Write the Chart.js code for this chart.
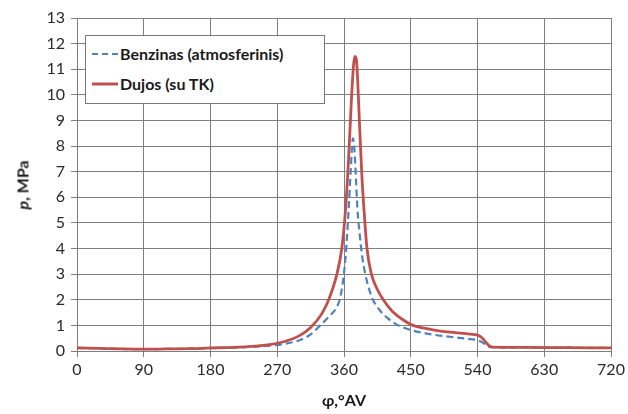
<!DOCTYPE html>
<html>
<head>
<meta charset="utf-8">
<script src="https://cdn.jsdelivr.net/npm/chart.js@4"></script>
<style>
  body { margin: 0; background: #fff; }
  #wrap { position: relative; width: 628px; height: 414px; font-family: Lato, "Liberation Sans", sans-serif; }
  #legend {
    position: absolute; left: 85px; top: 35px; width: 240px; height: 69px;
    background: #fff; border: 1px solid #777; box-sizing: border-box;
    font-weight: bold; font-size: 16px; color: #1a1a1a;
  }
  .item { position: absolute; left: 6px; display: flex; align-items: center; }
  .item svg { margin-right: 2px; }
  #ytitle {
    position: absolute; left: 22px; top: 185px; transform: translate(-50%, -50%) rotate(-90deg);
    font-weight: bold; font-size: 16px; color: #1a1a1a; white-space: nowrap;
  }
</style>
</head>
<body>
<div id="wrap">
  <canvas id="c" width="628" height="414"></canvas>
  <div id="legend">
    <div class="item" style="top:8px"><svg width="26" height="4"><line x1="0" y1="2" x2="26" y2="2" stroke="#4f81bd" stroke-width="2" stroke-dasharray="6,4"/></svg>Benzinas (atmosferinis)</div>
    <div class="item" style="top:38px"><svg width="26" height="4"><line x1="0" y1="2" x2="26" y2="2" stroke="#c0504d" stroke-width="3"/></svg>Dujos (su TK)</div>
  </div>
  <div id="ytitle"><i>p</i>, MPa</div>
</div>
<script>
// crank angle (deg) and cylinder pressure (MPa)
const angleDujos = [0, 30, 60, 90, 120, 150, 180, 210, 240, 260, 280, 300, 315, 330, 340, 350, 357, 362, 366, 370, 373, 375, 377, 379, 381, 384, 387, 391, 397, 405, 413, 425, 438, 453, 470, 490, 510, 530, 540, 546, 551, 556, 560, 600, 660, 720];
const pDujos =     [0.12, 0.1, 0.08, 0.07, 0.08, 0.09, 0.12, 0.14, 0.19, 0.25, 0.37, 0.6, 0.92, 1.45, 2.05, 2.95, 4.0, 5.5, 7.4, 9.8, 11.2, 11.5, 11.3, 10.2, 8.8, 6.9, 5.5, 4.0, 3.0, 2.4, 2.0, 1.55, 1.25, 1.0, 0.88, 0.78, 0.72, 0.66, 0.62, 0.52, 0.35, 0.2, 0.15, 0.14, 0.13, 0.12];

const angleBenz = [0, 30, 60, 90, 120, 150, 180, 210, 240, 260, 280, 300, 315, 328, 340, 350, 355, 359, 363, 366, 369, 372, 374, 376, 378, 381, 384, 388, 393, 399, 408, 418, 430, 440, 450, 465, 480, 495, 510, 525, 540, 547, 553, 558, 600, 660, 720];
const pBenz =     [0.12, 0.1, 0.08, 0.07, 0.08, 0.09, 0.11, 0.13, 0.17, 0.21, 0.28, 0.42, 0.65, 1.0, 1.35, 1.7, 2.1, 2.8, 4.0, 5.4, 7.0, 8.3, 7.9, 6.8, 5.6, 4.6, 3.8, 3.1, 2.5, 2.0, 1.6, 1.3, 1.05, 0.92, 0.82, 0.72, 0.64, 0.58, 0.53, 0.48, 0.42, 0.33, 0.2, 0.15, 0.14, 0.13, 0.12];

const xTicks = [0, 90, 180, 270, 360, 450, 540, 630, 720];
const yMax = 13;

const toXY = (xs, ys) => xs.map((x, i) => ({ x: x, y: ys[i] }));

new Chart(document.getElementById('c'), {
  type: 'line',
  data: {
    datasets: [
      {
        label: 'Dujos (su TK)',
        data: toXY(angleDujos, pDujos),
        borderColor: '#c0504d',
        borderWidth: 2.8,
        pointRadius: 0,
        cubicInterpolationMode: 'monotone'
      },
      {
        label: 'Benzinas (atmosferinis)',
        data: toXY(angleBenz, pBenz),
        borderColor: '#4f81bd',
        borderWidth: 2.2,
        borderDash: [7, 4],
        pointRadius: 0,
        cubicInterpolationMode: 'monotone'
      }
    ]
  },
  options: {
    responsive: false,
    animation: false,
    layout: { padding: { top: 18, right: 17, left: 0, bottom: 0 } },
    plugins: { legend: { display: false }, tooltip: { enabled: false } },
    scales: {
      x: {
        type: 'linear',
        min: 0,
        max: 720,
        afterBuildTicks: axis => { axis.ticks = xTicks.map(v => ({ value: v })); },
        afterFit: axis => { axis.height = 63; },
        grid: { color: '#7f7f7f', lineWidth: 1, drawTicks: true, tickLength: 6 },
        border: { color: '#7f7f7f' },
        ticks: { color: '#2a2a2a', font: { family: 'Lato', size: 16 }, padding: 3, maxRotation: 0 },
        title: { display: true, text: 'φ,°AV', color: '#1a1a1a', font: { family: 'Lato', size: 16, weight: 'bold' }, padding: { top: 1 } }
      },
      y: {
        min: 0,
        max: yMax,
        afterFit: axis => { axis.width = 77; },
        grid: { color: '#7f7f7f', lineWidth: 1, tickLength: 6 },
        border: { color: '#7f7f7f' },
        ticks: { stepSize: 1, color: '#2a2a2a', font: { family: 'Lato', size: 16 }, padding: 6 }
      }
    }
  }
});
</script>
</body>
</html>
